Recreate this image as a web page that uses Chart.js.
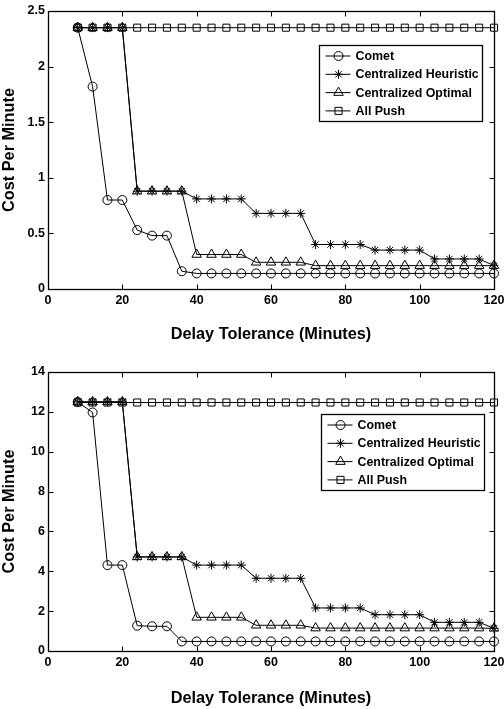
<!DOCTYPE html>
<html>
<head>
<meta charset="utf-8">
<script src="https://cdn.jsdelivr.net/npm/chart.js@4.4.0/dist/chart.umd.min.js"></script>
<style>
  html, body { margin: 0; padding: 0; background: #fff; }
  #wrap { position: relative; width: 504px; height: 709px; }
  canvas { position: absolute; left: 0; }
</style>
</head>
<body>
<div id="wrap">
  <canvas id="costTop" width="504" height="355" style="top:0;width:504px;height:355px"></canvas>
  <canvas id="costBottom" width="504" height="354" style="top:355px;width:504px;height:354px"></canvas>
</div>
<script>
// Data
const delayMinutes = [8, 12, 16, 20, 24, 28, 32, 36, 40, 44, 48, 52, 56, 60, 64, 68, 72, 76, 80, 84, 88, 92, 96, 100, 104, 108, 112, 116, 120];
const seriesNames = ['Comet', 'Centralized Heuristic', 'Centralized Optimal', 'All Push'];

// top panel
const topComet = [2.35, 1.82, 0.80, 0.80, 0.53, 0.48, 0.48, 0.16, 0.14, 0.14, 0.14, 0.14, 0.14, 0.14, 0.14, 0.14, 0.14, 0.14, 0.14, 0.14, 0.14, 0.14, 0.14, 0.14, 0.14, 0.14, 0.14, 0.14, 0.14];
const topHeuristic = [2.35, 2.35, 2.35, 2.35, 0.88, 0.88, 0.88, 0.88, 0.81, 0.81, 0.81, 0.81, 0.68, 0.68, 0.68, 0.68, 0.40, 0.40, 0.40, 0.40, 0.35, 0.35, 0.35, 0.35, 0.27, 0.27, 0.27, 0.27, 0.21];
const topOptimal = [2.35, 2.35, 2.35, 2.35, 0.88, 0.88, 0.88, 0.88, 0.31, 0.31, 0.31, 0.31, 0.24, 0.24, 0.24, 0.24, 0.21, 0.21, 0.21, 0.21, 0.21, 0.21, 0.21, 0.21, 0.21, 0.21, 0.21, 0.21, 0.21];
const topAllPush = [2.35, 2.35, 2.35, 2.35, 2.35, 2.35, 2.35, 2.35, 2.35, 2.35, 2.35, 2.35, 2.35, 2.35, 2.35, 2.35, 2.35, 2.35, 2.35, 2.35, 2.35, 2.35, 2.35, 2.35, 2.35, 2.35, 2.35, 2.35, 2.35];
const topYTicks = [0, 0.5, 1, 1.5, 2, 2.5];

// bottom panel
const bottomComet = [12.5, 11.97, 4.31, 4.31, 1.27, 1.24, 1.24, 0.48, 0.48, 0.48, 0.48, 0.48, 0.48, 0.48, 0.48, 0.48, 0.48, 0.48, 0.48, 0.48, 0.48, 0.48, 0.48, 0.48, 0.48, 0.48, 0.48, 0.48, 0.48];
const bottomHeuristic = [12.5, 12.5, 12.5, 12.5, 4.72, 4.72, 4.72, 4.72, 4.31, 4.31, 4.31, 4.31, 3.65, 3.65, 3.65, 3.65, 2.16, 2.16, 2.16, 2.16, 1.82, 1.82, 1.82, 1.82, 1.44, 1.44, 1.44, 1.44, 1.14];
const bottomOptimal = [12.5, 12.5, 12.5, 12.5, 4.72, 4.72, 4.72, 4.72, 1.69, 1.69, 1.69, 1.69, 1.29, 1.29, 1.29, 1.29, 1.15, 1.15, 1.15, 1.15, 1.15, 1.15, 1.15, 1.15, 1.15, 1.15, 1.15, 1.15, 1.14];
const bottomAllPush = [12.47, 12.47, 12.47, 12.47, 12.47, 12.47, 12.47, 12.47, 12.47, 12.47, 12.47, 12.47, 12.47, 12.47, 12.47, 12.47, 12.47, 12.47, 12.47, 12.47, 12.47, 12.47, 12.47, 12.47, 12.47, 12.47, 12.47, 12.47, 12.47];
const bottomYTicks = [0, 2, 4, 6, 8, 10, 12, 14];

const xTicks = [0, 20, 40, 60, 80, 100, 120];

const FONT = '"Liberation Sans", Arial, Helvetica, sans-serif';
const INK = '#000';

// marker look per series (circle, asterisk, triangle, square)
const MARKERS = [
  { pointStyle: 'circle', pointRadius: 4.5 },
  { pointStyle: 'star', pointRadius: 4.5 },
  { pointStyle: 'triangle', pointRadius: 5.5 },
  { pointStyle: 'rect', pointRadius: 5 },
];

// MATLAB style box with inward ticks on all four sides
const boxFrame = {
  id: 'boxFrame',
  afterDraw(chart) {
    const { ctx, chartArea: a, scales } = chart;
    const L = Math.round(a.left) + 0.5, R = Math.round(a.right) + 0.5;
    const T = Math.round(a.top) + 0.5, B = Math.round(a.bottom) + 0.5;
    ctx.save();
    ctx.strokeStyle = INK;
    ctx.lineWidth = 1.3;
    ctx.strokeRect(L, T, R - L, B - T);
    ctx.lineWidth = 1;
    ctx.beginPath();
    scales.x.ticks.forEach(t => {
      const px = Math.round(scales.x.getPixelForValue(t.value)) + 0.5;
      ctx.moveTo(px, B); ctx.lineTo(px, B - 5);
      ctx.moveTo(px, T); ctx.lineTo(px, T + 5);
    });
    scales.y.ticks.forEach(t => {
      const py = Math.round(scales.y.getPixelForValue(t.value)) + 0.5;
      ctx.moveTo(L, py); ctx.lineTo(L + 5, py);
      ctx.moveTo(R, py); ctx.lineTo(R - 5, py);
    });
    ctx.stroke();
    ctx.restore();
  },
};

// boxed legend with line + marker samples
const boxLegend = {
  id: 'boxLegend',
  afterDraw(chart, args, opts) {
    const { ctx, chartArea: a } = chart;
    const w = 163, h = 76;
    const x = Math.round(a.right - opts.right - w) + 0.5;
    const y = Math.round(a.top + opts.top) + 0.5;
    ctx.save();
    ctx.fillStyle = '#fff';
    ctx.fillRect(x, y, w, h);
    ctx.strokeStyle = INK;
    ctx.lineWidth = 1.3;
    ctx.strokeRect(x, y, w, h);
    ctx.font = `bold 12.4px ${FONT}`;
    ctx.textBaseline = 'middle';
    chart.data.datasets.forEach((ds, i) => {
      const cy = y + 10.5 + i * 18.3;
      ctx.strokeStyle = INK;
      ctx.lineWidth = 1;
      ctx.beginPath();
      ctx.moveTo(x + 6, cy);
      ctx.lineTo(x + 31, cy);
      ctx.stroke();
      ctx.fillStyle = 'rgba(0,0,0,0)';
      Chart.helpers.drawPoint(ctx, {
        pointStyle: ds.pointStyle, radius: ds.pointRadius, rotation: 0, borderWidth: 1,
      }, x + 19, cy);
      ctx.fillStyle = INK;
      ctx.fillText(ds.label, x + 36, cy + 0.5);
    });
    ctx.restore();
  },
};

function buildCostChart(ctx, series, yTicks, yMax, layout) {
  return new Chart(ctx, {
    type: 'line',
    data: {
      labels: delayMinutes,
      datasets: series.map((values, i) => ({
        label: seriesNames[i],
        data: delayMinutes.map((d, j) => ({ x: d, y: values[j] })),
        borderColor: INK,
        borderWidth: 1,
        pointBorderColor: INK,
        pointBackgroundColor: 'rgba(0,0,0,0)',
        pointBorderWidth: 1,
        pointStyle: MARKERS[i].pointStyle,
        pointRadius: MARKERS[i].pointRadius,
        tension: 0,
        fill: false,
        clip: false,
      })),
    },
    options: {
      responsive: false,
      animation: false,
      devicePixelRatio: 1,
      layout: { padding: { top: layout.padTop, right: 10, left: 0, bottom: 0 } },
      plugins: {
        legend: { display: false },
        tooltip: { enabled: false },
        boxLegend: { top: layout.legendTop, right: layout.legendRight },
      },
      scales: {
        x: {
          type: 'linear',
          min: 0,
          max: 120,
          grid: { display: false, drawTicks: false },
          border: { display: false },
          afterBuildTicks: s => { s.ticks = xTicks.map(v => ({ value: v })); },
          afterFit: s => { s.height = layout.xHeight; s.paddingLeft = 0; s.paddingRight = 0; },
          ticks: {
            color: INK, padding: 4, maxRotation: 0,
            font: { family: FONT, size: 12.5, weight: 'bold' },
            callback: v => `${v}`,
          },
          title: {
            display: true,
            text: 'Delay Tolerance (Minutes)',
            color: INK,
            font: { family: FONT, size: 16.3, weight: 'bold', lineHeight: 1.2 },
            padding: { top: 0, bottom: layout.titlePad },
          },
        },
        y: {
          min: 0,
          max: yMax,
          grid: { display: false, drawTicks: false },
          border: { display: false },
          afterBuildTicks: s => { s.ticks = yTicks.map(v => ({ value: v })); },
          afterFit: s => { s.width = 48; s.paddingTop = 0; s.paddingBottom = 0; },
          ticks: {
            color: INK, padding: 3,
            font: { family: FONT, size: 12.5, weight: 'bold' },
            callback: v => `${v}`,
          },
          title: {
            display: true,
            text: 'Cost Per Minute',
            color: INK,
            font: { family: FONT, size: 16.3, weight: 'bold', lineHeight: 1.2 },
            padding: { top: 0, bottom: 0 },
          },
        },
      },
    },
    plugins: [boxFrame, boxLegend],
  });
}

buildCostChart(
  document.getElementById('costTop'),
  [topComet, topHeuristic, topOptimal, topAllPush],
  topYTicks, 2.5,
  { padTop: 11, xHeight: 66, titlePad: 11, legendTop: 34, legendRight: 12 }
);

buildCostChart(
  document.getElementById('costBottom'),
  [bottomComet, bottomHeuristic, bottomOptimal, bottomAllPush],
  bottomYTicks, 14,
  { padTop: 17, xHeight: 58, titlePad: 1, legendTop: 42, legendRight: 10 }
);
</script>
</body>
</html>
